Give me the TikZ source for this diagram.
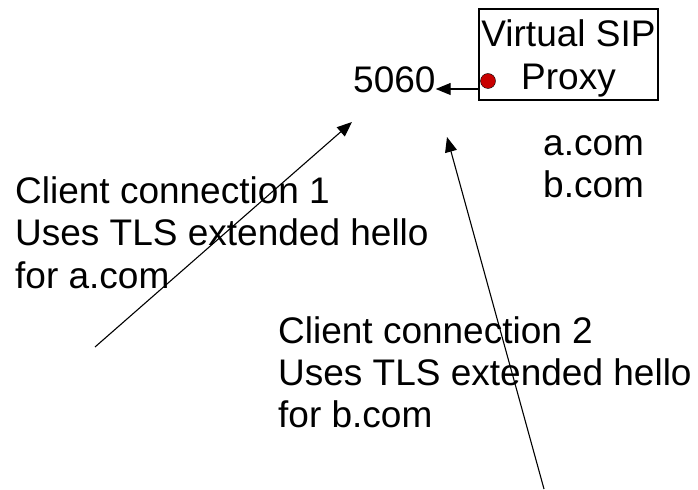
\documentclass[tikz,border=0pt]{standalone}
\usepackage{fontspec}
\setmainfont{Liberation Sans}
\usetikzlibrary{arrows.meta}
\definecolor{dotred}{RGB}{200,0,0}

\begin{document}
\begin{tikzpicture}[x=1bp, y=-1bp,
  txt/.style={font=\fontsize{37bp}{42bp}\selectfont, inner sep=0pt, align=left, anchor=base west},
  box/.style={draw, line width=1.4bp, minimum width=179bp, minimum height=91bp, inner sep=0pt, align=center, font=\fontsize{37bp}{43bp}\selectfont},
  ar/.style={line width=1.1bp, -{Triangle[length=15bp,width=12bp]}}]
  \useasboundingbox (0,0) rectangle (698,490);

  \node[box] (proxy) at (568.5,54.5) {\rule{0pt}{34bp}Virtual SIP\\Proxy};
  \node[circle, draw, fill=dotred, minimum size=15bp, inner sep=0pt] (dot) at (488,81) {};
  \node[txt] (port) at (353,93) {5060};
  \node[txt] (domains) at (543,198) {a.com\\b.com};
  \node[txt] (client1) at (15,288) {Client connection 1\\Uses TLS extended hello\\for a.com};
  \node[txt] (client2) at (278,427) {Client connection 2\\Uses TLS extended hello\\for b.com};

  \coordinate (pin) at (proxy.west |- 0,89);
  \coordinate (c1) at (95,347);
  \coordinate (t1) at (352,122);
  \coordinate (c2) at (544,489);
  \coordinate (t2) at (447,137);

  \draw[ar] (pin) -- (pin -| port.east);
  \draw[ar] (c1) -- (t1);
  \draw[ar] (c2) -- (t2);
\end{tikzpicture}
\end{document}
